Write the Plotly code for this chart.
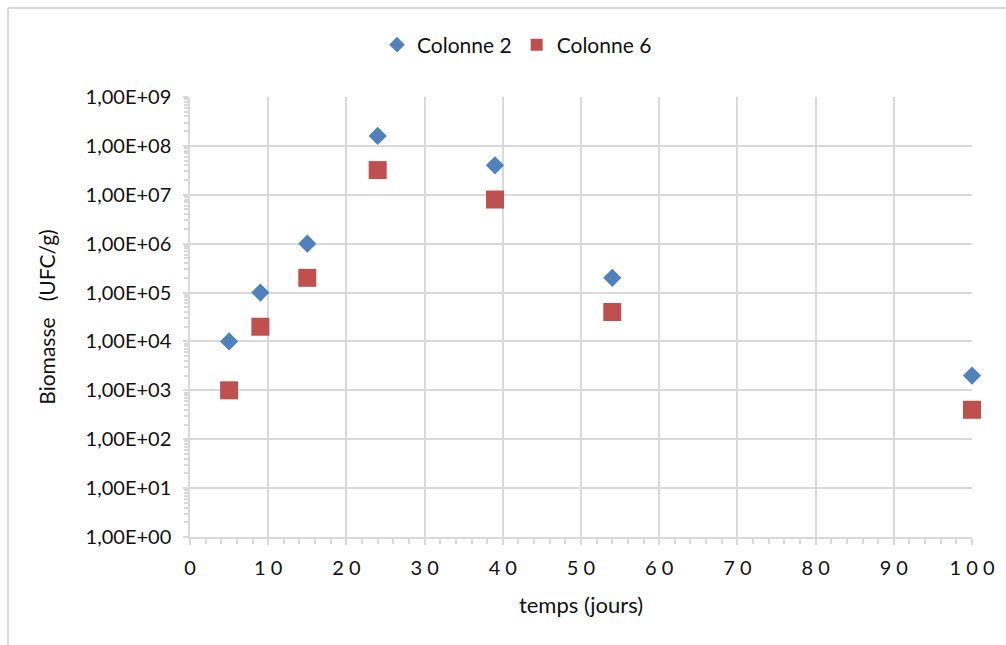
import plotly.graph_objects as go

# Sampling days and biomass counts (UFC/g) for the two columns
jours = [5, 9, 15, 24, 39, 54, 100]
colonne_2 = [1e4, 1e5, 1e6, 1.6e8, 4e7, 2e5, 2e3]
colonne_6 = [1e3, 2e4, 2e5, 3.2e7, 8e6, 4e4, 4e2]

# Axis ticks
y_tickvals = [1e0, 1e1, 1e2, 1e3, 1e4, 1e5, 1e6, 1e7, 1e8, 1e9]
y_ticktext = ["1,00E+00", "1,00E+01", "1,00E+02", "1,00E+03", "1,00E+04",
              "1,00E+05", "1,00E+06", "1,00E+07", "1,00E+08", "1,00E+09"]
x_tickvals = [0, 10, 20, 30, 40, 50, 60, 70, 80, 90, 100]
x_ticktext = ["0", "1 0", "2 0", "3 0", "4 0", "5 0", "6 0", "7 0", "8 0", "9 0", "1 0 0"]

FONT = "Lato"
INK = "#111111"
GRID = "#d9d9d9"
W, H = 1006, 645
L, R, T, B = 190, 34, 97, 108
pw, ph = W - L - R, H - T - B


def px_to_paper_x(px):
    return (px - L) / pw


def px_to_paper_y(py):
    return (H - B - py) / ph


fig = go.Figure()
fig.add_trace(go.Scatter(
    x=jours, y=colonne_2, mode="markers", name="Colonne 2", cliponaxis=False,
    marker=dict(symbol="diamond", size=14, color="#4f81bd"),
))
fig.add_trace(go.Scatter(
    x=jours, y=colonne_6, mode="markers", name="Colonne 6", cliponaxis=False,
    marker=dict(symbol="square", size=18, color="#c0504d"),
))

fig.update_layout(
    width=W, height=H,
    margin=dict(l=L, r=R, t=T, b=B),
    paper_bgcolor="white", plot_bgcolor="white",
    font=dict(family=FONT, size=20, color=INK),
    legend=dict(
        orientation="h", x=px_to_paper_x(517), xanchor="center",
        y=px_to_paper_y(45), yanchor="middle",
        font=dict(family=FONT, size=21, color=INK), itemsizing="constant",
    ),
    xaxis=dict(
        range=[0, 100], tickvals=x_tickvals, ticktext=x_ticktext,
        tickfont=dict(family=FONT, size=20, color=INK),
        showgrid=True, gridcolor=GRID, gridwidth=1.5,
        showline=True, linecolor=GRID, linewidth=1.5,
        ticks="outside", ticklen=6, tickcolor=GRID, tickwidth=1.5,
        minor=dict(dtick=2, ticks="outside", ticklen=5, tickcolor=GRID, showgrid=False),
        ticklabelstandoff=6,
        zeroline=False, mirror=False,
        title=dict(text="temps (jours)", font=dict(family=FONT, size=22, color=INK), standoff=20),
    ),
    yaxis=dict(
        type="log", range=[0, 9], tickvals=y_tickvals, ticktext=y_ticktext,
        tickfont=dict(family=FONT, size=20, color=INK),
        showgrid=True, gridcolor=GRID, gridwidth=1.5,
        showline=True, linecolor=GRID, linewidth=1.5,
        ticks="outside", ticklen=5, tickcolor=GRID, tickwidth=1.5,
        minor=dict(dtick="D1", ticks="outside", ticklen=4, tickcolor=GRID, showgrid=False),
        ticklabelstandoff=8,
        zeroline=False,
        title=dict(text="Biomasse\u00a0\u00a0\u00a0(UFC/g)", font=dict(family=FONT, size=21, color=INK), standoff=24),
    ),
    shapes=[
        dict(type="line", xref="paper", yref="paper",
             x0=px_to_paper_x(8), x1=px_to_paper_x(W + 5),
             y0=px_to_paper_y(8), y1=px_to_paper_y(8),
             line=dict(color="#d9d9d9", width=2)),
        dict(type="line", xref="paper", yref="paper",
             x0=px_to_paper_x(8), x1=px_to_paper_x(8),
             y0=px_to_paper_y(8), y1=px_to_paper_y(H + 5),
             line=dict(color="#d9d9d9", width=2)),
    ],
)

fig.write_html("out.html")
